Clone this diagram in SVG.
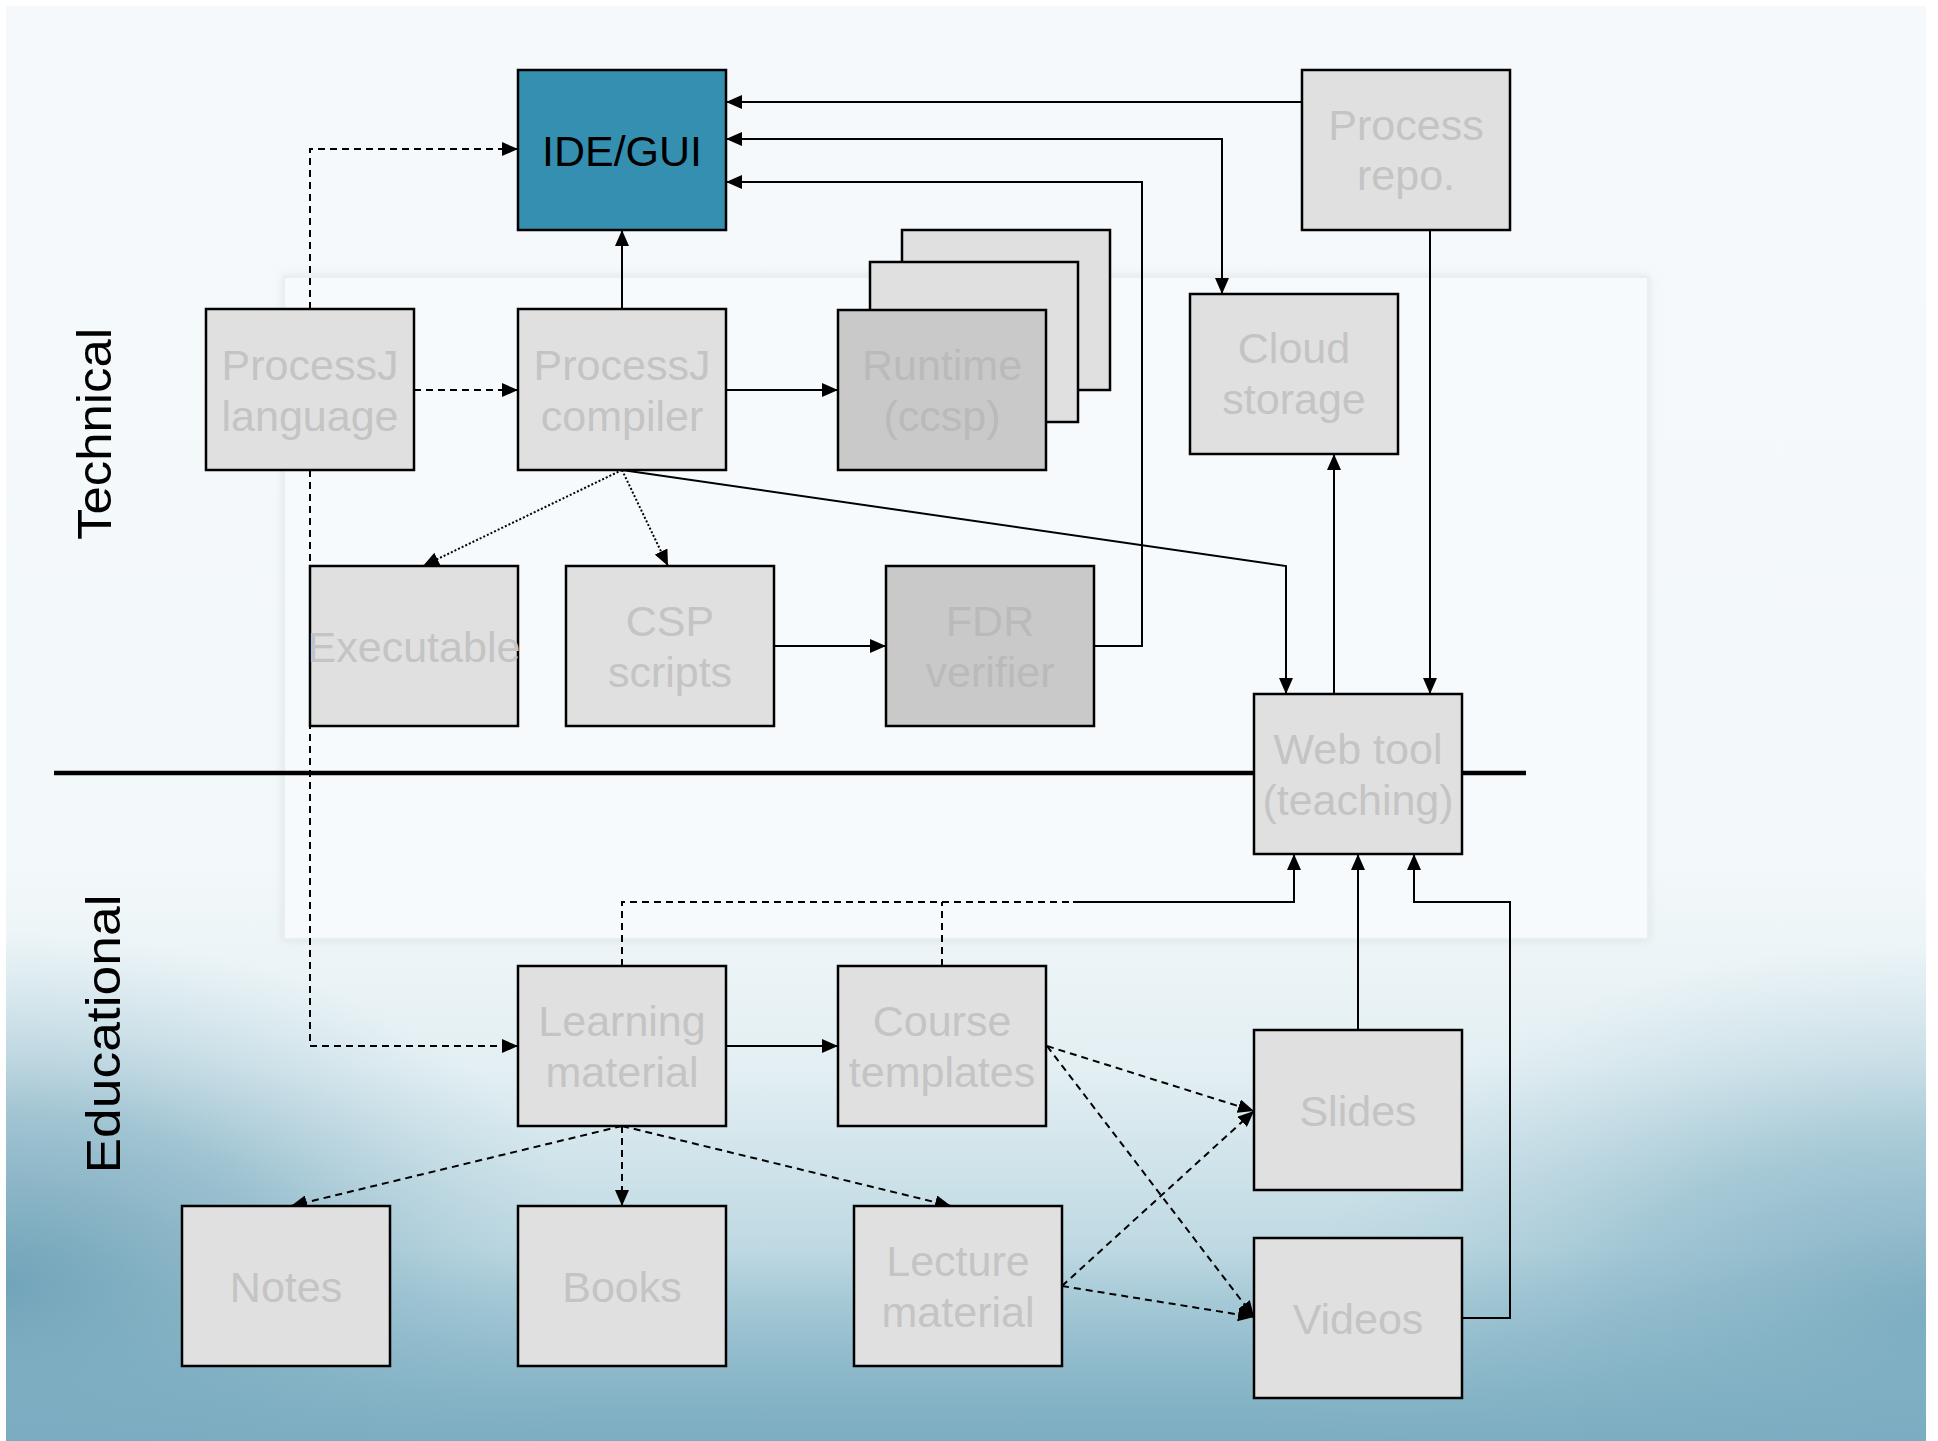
<svg xmlns="http://www.w3.org/2000/svg" width="1938" height="1441" viewBox="0 0 1938 1441">
<defs>
<style>
.n{fill:#e0e0e0;stroke:#000;stroke-width:2.5}
.d{fill:#c9c9c9;stroke:#000;stroke-width:2.5}
.t{font-family:"Liberation Sans",Arial,sans-serif;font-size:43px;fill:#c4c4c4;text-anchor:middle}
.td{fill:#bababa}
.lbl{font-family:"Liberation Sans",Arial,sans-serif;font-size:49px;fill:#000;text-anchor:middle}
.s{fill:none;stroke:#000;stroke-width:2}
.ds{fill:none;stroke:#000;stroke-width:2;stroke-dasharray:7 5}
.dt{fill:none;stroke:#000;stroke-width:2;stroke-dasharray:2 2}
</style>
<linearGradient id="bg" x1="0" y1="0" x2="0" y2="1">
<stop offset="0" stop-color="#f5f9fb"/>
<stop offset="0.6" stop-color="#f3f8fa"/>
<stop offset="0.74" stop-color="#e3eff3"/>
<stop offset="0.86" stop-color="#c0dae3"/>
<stop offset="1" stop-color="#93bfcf"/>
</linearGradient>
<radialGradient id="dl" cx="0.5" cy="0.5" r="0.5">
<stop offset="0" stop-color="#6b9fb5" stop-opacity="0.95"/>
<stop offset="0.5" stop-color="#7eadc1" stop-opacity="0.6"/>
<stop offset="1" stop-color="#a9cbd8" stop-opacity="0"/>
</radialGradient>
<radialGradient id="dr" cx="0.5" cy="0.5" r="0.5">
<stop offset="0" stop-color="#78a9be" stop-opacity="0.9"/>
<stop offset="0.5" stop-color="#89b6c8" stop-opacity="0.55"/>
<stop offset="1" stop-color="#b0cfdb" stop-opacity="0"/>
</radialGradient>
<linearGradient id="bot" x1="0" y1="0" x2="0" y2="1">
<stop offset="0" stop-color="#7fb0c4" stop-opacity="0"/>
<stop offset="1" stop-color="#7aabc0" stop-opacity="0.9"/>
</linearGradient>
<filter id="sh" x="-5%" y="-5%" width="110%" height="110%">
<feDropShadow dx="0" dy="0" stdDeviation="5" flood-color="#9aa8ae" flood-opacity="0.25"/>
</filter>
<marker id="ar" viewBox="0 0 16 14" refX="16" refY="7" markerWidth="16" markerHeight="14" markerUnits="userSpaceOnUse" orient="auto-start-reverse">
<path d="M0,0 L16,7 L0,14 z" fill="#000"/>
</marker>
</defs>

<g id="background">
<rect x="0" y="0" width="1938" height="1441" fill="#ffffff"/>
<svg x="6" y="6" width="1920" height="1435" viewBox="6 6 1920 1435">
<rect x="6" y="6" width="1920" height="1435" fill="url(#bg)"/>
<ellipse cx="0" cy="1290" rx="600" ry="360" fill="url(#dl)"/>
<ellipse cx="1938" cy="1320" rx="650" ry="380" fill="url(#dr)"/>
<rect x="6" y="1250" width="1920" height="191" fill="url(#bot)"/>
</svg>
<rect x="284" y="277" width="1364" height="662" fill="#f7fafc" stroke="#e9eef1" stroke-width="2" filter="url(#sh)"/>
</g>

<g id="labels">
<text class="lbl" transform="translate(111,434) rotate(-90)" textLength="212" lengthAdjust="spacingAndGlyphs">Technical</text>
<text class="lbl" transform="translate(120,1034) rotate(-90)" textLength="279" lengthAdjust="spacingAndGlyphs">Educational</text>
</g>

<line id="separator" x1="54" y1="773" x2="1526" y2="773" stroke="#000" stroke-width="4.5"/>

<g id="connectors">
<path class="s" d="M1302,102 H726" marker-end="url(#ar)"/>
<path class="s" d="M726,139 H1222 V294" marker-start="url(#ar)" marker-end="url(#ar)"/>
<path class="s" d="M1094,646 H1142 V182 H726" marker-end="url(#ar)"/>
<path class="s" d="M622,309 V230" marker-end="url(#ar)"/>
<path class="ds" d="M310,309 V149 H518" marker-end="url(#ar)"/>
<path class="ds" d="M414,390 H518" marker-end="url(#ar)"/>
<path class="s" d="M726,390 H838" marker-end="url(#ar)"/>
<path class="dt" d="M622,470 L423,566" marker-end="url(#ar)"/>
<path class="dt" d="M622,470 L668,566" marker-end="url(#ar)"/>
<path class="s" d="M622,470 L1286,566 V694" marker-end="url(#ar)"/>
<path class="s" d="M774,646 H886" marker-end="url(#ar)"/>
<path class="s" d="M1334,694 V454" marker-end="url(#ar)"/>
<path class="s" d="M1430,230 V694" marker-end="url(#ar)"/>
<path class="ds" d="M310,470 V1046 H518" marker-end="url(#ar)"/>
<path class="s" d="M726,1046 H838" marker-end="url(#ar)"/>
<path class="ds" d="M622,966 V902 H1073"/>
<path class="ds" d="M942,966 V902"/>
<path class="s" d="M1073,902 H1294 V854" marker-end="url(#ar)"/>
<path class="s" d="M1358,1030 V854" marker-end="url(#ar)"/>
<path class="s" d="M1462,1318 H1510 V902 H1414 V854" marker-end="url(#ar)"/>
<path class="ds" d="M1047,1046 L1254,1111" marker-end="url(#ar)"/>
<path class="ds" d="M1047,1046 L1254,1317" marker-end="url(#ar)"/>
<path class="ds" d="M1062,1286 L1254,1111" marker-end="url(#ar)"/>
<path class="ds" d="M1062,1286 L1254,1317" marker-end="url(#ar)"/>
<path class="ds" d="M622,1126 L291,1206" marker-end="url(#ar)"/>
<path class="ds" d="M622,1126 V1206" marker-end="url(#ar)"/>
<path class="ds" d="M622,1126 L951,1206" marker-end="url(#ar)"/>
</g>

<g id="ide">
<rect x="518" y="70" width="208" height="160" fill="#358fb0" stroke="#000" stroke-width="2.5"/>
<text class="t" x="622" y="166" style="fill:#000">IDE/GUI</text>
</g>
<g id="process-repo">
<rect class="n" x="1302" y="70" width="208" height="160"/>
<text class="t" x="1406" y="140">Process</text>
<text class="t" x="1406" y="190">repo.</text>
</g>
<g id="processj-language">
<rect class="n" x="206" y="309" width="208" height="161"/>
<text class="t" x="310" y="380">ProcessJ</text>
<text class="t" x="310" y="431">language</text>
</g>
<g id="processj-compiler">
<rect class="n" x="518" y="309" width="208" height="161"/>
<text class="t" x="622" y="380">ProcessJ</text>
<text class="t" x="622" y="431">compiler</text>
</g>
<g id="runtime">
<rect class="n" x="902" y="230" width="208" height="160"/>
<rect class="n" x="870" y="262" width="208" height="160"/>
<rect class="d" x="838" y="310" width="208" height="160"/>
<text class="t td" x="942" y="380">Runtime</text>
<text class="t td" x="942" y="431">(ccsp)</text>
</g>
<g id="cloud-storage">
<rect class="n" x="1190" y="294" width="208" height="160"/>
<text class="t" x="1294" y="363">Cloud</text>
<text class="t" x="1294" y="414">storage</text>
</g>
<g id="executable">
<rect class="n" x="310" y="566" width="208" height="160"/>
<text class="t" x="414" y="662">Executable</text>
</g>
<g id="csp-scripts">
<rect class="n" x="566" y="566" width="208" height="160"/>
<text class="t" x="670" y="636">CSP</text>
<text class="t" x="670" y="687">scripts</text>
</g>
<g id="fdr-verifier">
<rect class="d" x="886" y="566" width="208" height="160"/>
<text class="t td" x="990" y="636">FDR</text>
<text class="t td" x="990" y="687">verifier</text>
</g>
<g id="web-tool">
<rect class="n" x="1254" y="694" width="208" height="160"/>
<text class="t" x="1358" y="764">Web tool</text>
<text class="t" x="1358" y="815">(teaching)</text>
</g>
<g id="learning-material">
<rect class="n" x="518" y="966" width="208" height="160"/>
<text class="t" x="622" y="1036">Learning</text>
<text class="t" x="622" y="1087">material</text>
</g>
<g id="course-templates">
<rect class="n" x="838" y="966" width="208" height="160"/>
<text class="t" x="942" y="1036">Course</text>
<text class="t" x="942" y="1087">templates</text>
</g>
<g id="slides">
<rect class="n" x="1254" y="1030" width="208" height="160"/>
<text class="t" x="1358" y="1126">Slides</text>
</g>
<g id="notes">
<rect class="n" x="182" y="1206" width="208" height="160"/>
<text class="t" x="286" y="1302">Notes</text>
</g>
<g id="books">
<rect class="n" x="518" y="1206" width="208" height="160"/>
<text class="t" x="622" y="1302">Books</text>
</g>
<g id="lecture-material">
<rect class="n" x="854" y="1206" width="208" height="160"/>
<text class="t" x="958" y="1276">Lecture</text>
<text class="t" x="958" y="1327">material</text>
</g>
<g id="videos">
<rect class="n" x="1254" y="1238" width="208" height="160"/>
<text class="t" x="1358" y="1334">Videos</text>
</g>
</svg>
